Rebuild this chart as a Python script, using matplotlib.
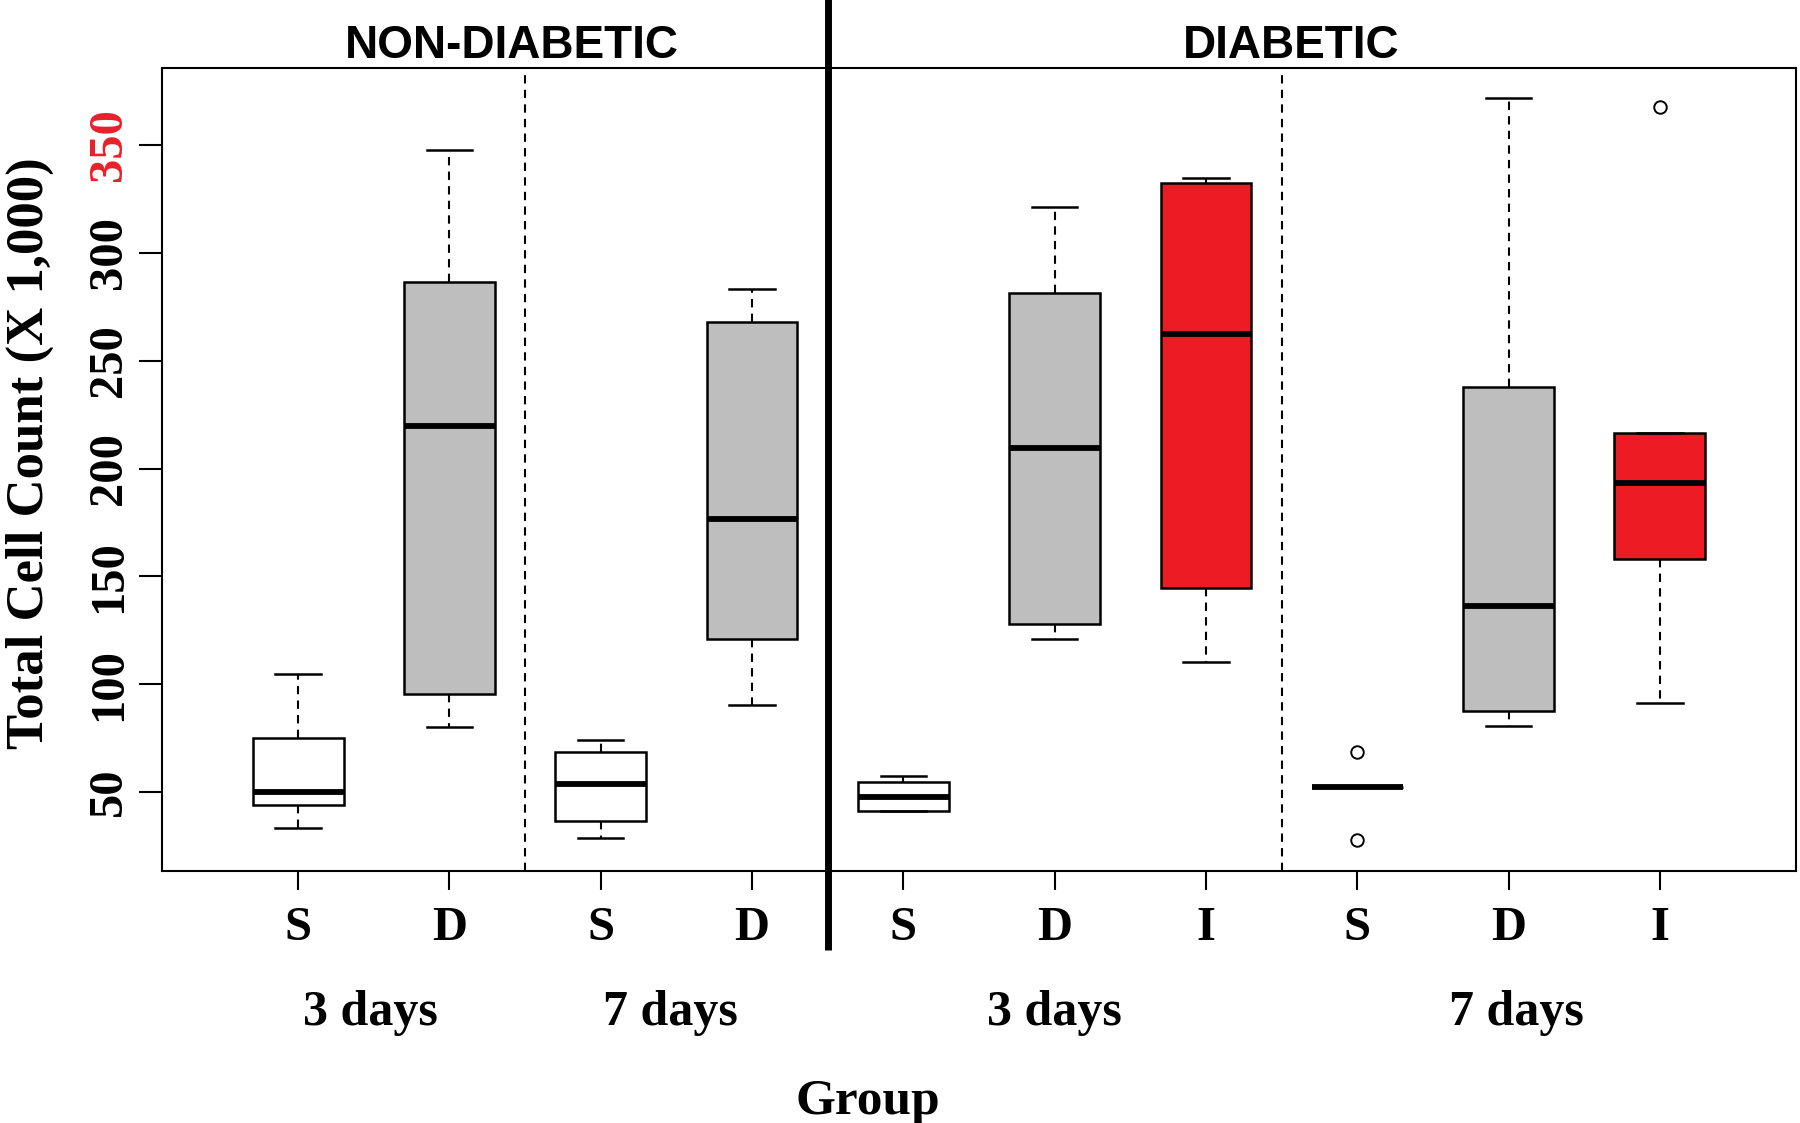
import matplotlib
matplotlib.use("Agg")
import matplotlib.pyplot as plt
import matplotlib.transforms as mtransforms

# box statistics (cell count x 1,000)
positions = [1, 2, 3, 4, 5, 6, 7, 8, 9, 10]
tick_labels = ["S", "D", "S", "D", "S", "D", "I", "S", "D", "I"]
whislo = [33.5, 80.3, 28.8, 90.6, 41.0, 120.9, 110.2, 52.3, 80.4, 91.4]
q1 = [44.2, 95.3, 36.4, 120.8, 41.0, 127.8, 144.6, 52.3, 87.8, 158.2]
med = [49.8, 219.8, 53.6, 176.7, 47.8, 209.6, 262.5, 52.3, 136.2, 193.2]
q3 = [75.2, 286.5, 68.8, 268.0, 54.5, 281.2, 332.3, 52.3, 237.6, 216.7]
whishi = [104.8, 347.6, 74.2, 283.4, 57.4, 321.1, 334.5, 52.3, 371.6, 216.7]
outliers = [[], [], [], [], [], [], [], [68.5, 27.6], [], [367.8]]
box_colors = ["white", "#BEBEBE", "white", "#BEBEBE", "white", "#BEBEBE",
              "#ED1C24", "white", "#BEBEBE", "#ED1C24"]

group_labels = ["3 days", "7 days", "3 days", "7 days"]
group_pos = [1.48, 3.46, 6.0, 9.05]
panel_titles = ["NON-DIABETIC", "DIABETIC"]
panel_pos = [2.41, 7.56]
yticks = [50, 100, 150, 200, 250, 300, 350]

serif = "Liberation Serif"
sans = "Liberation Sans"

fig = plt.figure(figsize=(18, 11.23), dpi=100)
ax = fig.add_axes([0.09, 0.2244, 0.9078, 0.715])

stats = []
for i in range(len(positions)):
    stats.append({"whislo": whislo[i], "q1": q1[i], "med": med[i], "q3": q3[i],
                  "whishi": whishi[i], "fliers": outliers[i]})

bp = ax.bxp(stats, positions=positions, widths=0.6, patch_artist=True,
            showfliers=True,
            boxprops=dict(linewidth=1.8, edgecolor="black"),
            whiskerprops=dict(linewidth=1.5, linestyle=(0, (4, 3)), color="black"),
            capprops=dict(linewidth=1.8, color="black"),
            medianprops=dict(linewidth=4.2, color="black", solid_capstyle="butt"),
            flierprops=dict(marker="o", markersize=9, markerfacecolor="none",
                            markeredgecolor="black", markeredgewidth=1.4))
for patch, c in zip(bp["boxes"], box_colors):
    patch.set_facecolor(c)
for cap in bp["caps"]:
    x0, x1 = cap.get_xdata()
    xm = (x0 + x1) / 2
    cap.set_xdata([xm - 0.15, xm + 0.15])

ax.set_xlim(0.1, 10.9)
ax.set_ylim(13.4, 385.7)

# separators
ax.axvline(2.5, color="black", linewidth=1.5, linestyle=(0, (4, 3)))
ax.axvline(7.5, color="black", linewidth=1.5, linestyle=(0, (4, 3)))
trans = mtransforms.blended_transform_factory(ax.transData, ax.transAxes)
ax.plot([4.5, 4.5], [-0.098, 1.09], color="black", linewidth=5,
        transform=trans, clip_on=False, solid_capstyle="butt")

for s in ax.spines.values():
    s.set_linewidth(1.5)

ax.set_xticks(positions)
ax.set_xticklabels(tick_labels, fontfamily=serif, fontweight="bold", fontsize=35)
ax.tick_params(axis="x", length=14, width=1.5, pad=11)
ax.set_yticks(yticks)
ax.set_yticklabels([str(v) for v in yticks], fontfamily=serif, fontweight="bold",
                   fontsize=35, rotation=90, va="center")
ax.tick_params(axis="y", length=16.5, width=1.5, pad=6)
ax.get_yticklabels()[-1].set_color("#E8202A")

ax.set_ylabel("Total Cell Count (X 1,000)", fontfamily=serif, fontweight="bold",
              fontsize=38)
ax.yaxis.set_label_coords(-0.066, 0.52)

ftrans = mtransforms.blended_transform_factory(ax.transData, fig.transFigure)
for name, xp in zip(panel_titles, panel_pos):
    ax.text(xp, 0.948, name, transform=ftrans, ha="center", va="baseline",
            fontfamily=sans, fontweight="bold", fontsize=33)
for name, xp in zip(group_labels, group_pos):
    ax.text(xp, 0.0873, name, transform=ftrans, ha="center", va="baseline",
            fontfamily=serif, fontweight="bold", fontsize=36)

fig.text(0.482, 0.008, "Group", ha="center", va="baseline",
         fontfamily=serif, fontweight="bold", fontsize=37)

fig.savefig("out.png", dpi=100)
